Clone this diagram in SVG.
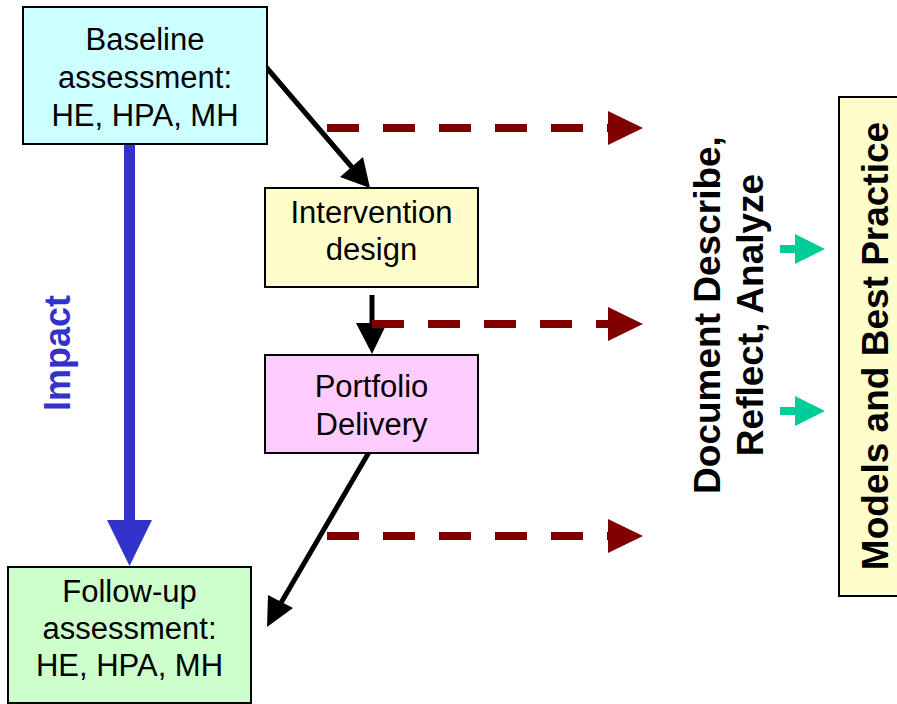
<svg xmlns="http://www.w3.org/2000/svg" width="897" height="704" viewBox="0 0 897 704">
<style>
.box{stroke:#000;stroke-width:2}
.t{font-family:"Liberation Sans",Arial,sans-serif;font-size:31px;fill:#000;text-anchor:middle}
.b{font-family:"Liberation Sans",Arial,sans-serif;font-size:37px;font-weight:bold;fill:#000;text-anchor:middle}
.blk{stroke:#000;stroke-width:5;fill:none}
.blkh{fill:#000}
.red{stroke:#800000;stroke-width:8;stroke-dasharray:32 24;fill:none}
.redh{fill:#800000}
.teal{stroke:#00cc99;stroke-width:8;fill:none}
.tealh{fill:#00cc99}
</style>
<rect width="897" height="704" fill="#fff"/>
<g id="connectors">
  <line class="blk" x1="266" y1="67" x2="356" y2="172"/>
  <polygon class="blkh" points="370,188 340,177 363,157"/>
  <line class="blk" x1="372" y1="295" x2="372" y2="325"/>
  <polygon class="blkh" points="372,354 356,323 387,323"/>
  <line class="blk" x1="372" y1="447" x2="278" y2="608"/>
  <polygon class="blkh" points="267,627 268,595 293,608"/>
  <line class="red" x1="327" y1="128" x2="610" y2="128"/>
  <polygon class="redh" points="643,128 608,111 608,145"/>
  <line class="red" x1="372" y1="324" x2="610" y2="324"/>
  <polygon class="redh" points="643,324 608,307 608,341"/>
  <line class="red" x1="327" y1="536" x2="610" y2="536"/>
  <polygon class="redh" points="643,536 608,519 608,553"/>
  <line class="teal" x1="780" y1="249" x2="797" y2="249"/>
  <polygon class="tealh" points="825,249 795,234 795,264"/>
  <line class="teal" x1="780" y1="411" x2="797" y2="411"/>
  <polygon class="tealh" points="825,411 795,396 795,426"/>
  <rect x="124" y="143" width="11" height="380" fill="#3333cc"/>
  <polygon points="107,520 152,520 129.5,566" fill="#3333cc"/>
  <text x="70" y="353" transform="rotate(-90 70 353)" class="b" style="fill:#3333cc;font-size:36px">Impact</text>
</g>
<g id="baseline">
  <rect class="box" x="23" y="7" width="244" height="137" fill="#ccffff"/>
  <text class="t" x="145" y="50">Baseline</text>
  <text class="t" x="145" y="88">assessment:</text>
  <text class="t" x="145" y="126">HE, HPA, MH</text>
</g>
<g id="intervention">
  <rect class="box" x="265" y="188" width="213" height="99" fill="#ffffcc"/>
  <text class="t" x="371.5" y="223">Intervention</text>
  <text class="t" x="371.5" y="260">design</text>
</g>
<g id="portfolio">
  <rect class="box" x="265" y="355" width="213" height="98" fill="#ffccff"/>
  <text class="t" x="371.5" y="397">Portfolio</text>
  <text class="t" x="371.5" y="435">Delivery</text>
</g>
<g id="followup">
  <rect class="box" x="8" y="567" width="243" height="136" fill="#ccffcc"/>
  <text class="t" x="129.5" y="602">Follow-up</text>
  <text class="t" x="129.5" y="639">assessment:</text>
  <text class="t" x="129.5" y="676">HE, HPA, MH</text>
</g>
<g id="document">
  <text class="b" x="720" y="315" transform="rotate(-90 720 315)">Document Describe,</text>
  <text class="b" x="763" y="315" transform="rotate(-90 763 315)">Reflect, Analyze</text>
</g>
<g id="models">
  <rect class="box" x="839" y="97" width="70" height="499" fill="#ffffcc"/>
  <text class="b" x="888" y="346" transform="rotate(-90 888 346)">Models and Best Practice</text>
</g>
</svg>
